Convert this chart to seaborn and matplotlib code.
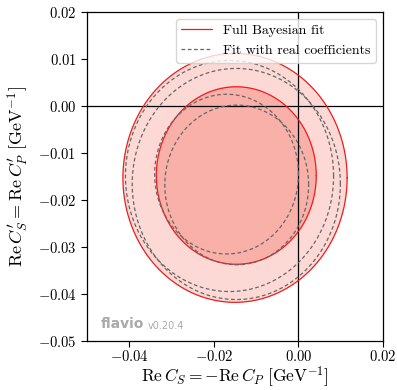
import numpy as np
import pandas as pd
import matplotlib
matplotlib.use("Agg")
import matplotlib.pyplot as plt
import seaborn as sns

# -----------------------------
# Data
# -----------------------------
# each contour: centre (x, y) and radius in data units
FITS = ["Full Bayesian fit", "Fit with real coefficients", "Fit with real coefficients"]
FIT_IDS = ["bayes", "real_a", "real_b"]
CENTER_X_1S = [-0.0147, -0.0170, -0.0146]
CENTER_Y_1S = [-0.0148, -0.0145, -0.0168]
RADIUS_1S = [0.0189, 0.0170, 0.0170]
CENTER_X_2S = [-0.0150, -0.0163, -0.0147]
CENTER_Y_2S = [-0.0153, -0.0149, -0.0166]
RADIUS_2S = [0.0265, 0.0246, 0.0246]

X_TICKS = [-0.04, -0.02, 0.00, 0.02]
Y_TICKS = [-0.05, -0.04, -0.03, -0.02, -0.01, 0.00, 0.01, 0.02]
X_LIM = (-0.05, 0.02)
Y_LIM = (-0.05, 0.02)

RED = "#ee1c1c"
FILL_1S = "#f8b0a8"
FILL_2S = "#fdd9d5"
GREY = "#666666"

# -----------------------------
# Contour outlines
# -----------------------------
t = np.linspace(0, 2 * np.pi, 400)
rows = []
for i, fid in enumerate(FIT_IDS):
    for lvl, cx, cy, r in [("1s", CENTER_X_1S[i], CENTER_Y_1S[i], RADIUS_1S[i]),
                           ("2s", CENTER_X_2S[i], CENTER_Y_2S[i], RADIUS_2S[i])]:
        for k, tt in enumerate(t):
            rows.append({"x": cx + r * np.cos(tt), "y": cy + r * np.sin(tt),
                         "fit": FITS[i], "contour": f"{fid}_{lvl}", "order": k})
df = pd.DataFrame(rows)

# -----------------------------
# Style
# -----------------------------
sns.set_theme(style="ticks", rc={"axes.edgecolor": "black", "xtick.color": "black",
                                 "ytick.color": "black", "text.color": "black",
                                 "axes.labelcolor": "black"})
plt.rcParams["font.family"] = ["cmr10", "DejaVu Serif"]
plt.rcParams["mathtext.fontset"] = "cm"
plt.rcParams["axes.formatter.use_mathtext"] = True
plt.rcParams["axes.unicode_minus"] = True

fig = plt.figure(figsize=(3.97, 3.90), dpi=100)
ax = fig.add_axes([0.219, 0.126, 0.746, 0.843])

# fills for the Bayesian fit
bayes = df[df["fit"] == "Full Bayesian fit"]
b2 = bayes[bayes["contour"] == "bayes_2s"]
b1 = bayes[bayes["contour"] == "bayes_1s"]
ax.fill(b2["x"], b2["y"], color=FILL_2S, lw=0, zorder=1)
ax.fill(b1["x"], b1["y"], color=FILL_1S, lw=0, zorder=2)

ax.axhline(0, color="black", lw=0.9, zorder=3)
ax.axvline(0, color="black", lw=0.9, zorder=3)

sns.lineplot(data=df, x="x", y="y", hue="fit", style="fit", units="contour",
             estimator=None, sort=False, ax=ax,
             palette={"Full Bayesian fit": RED, "Fit with real coefficients": GREY},
             dashes={"Full Bayesian fit": "", "Fit with real coefficients": (3, 2)},
             lw=0.9, zorder=4)

ax.set_xlim(*X_LIM)
ax.set_ylim(*Y_LIM)
ax.set_xticks(X_TICKS)
ax.set_yticks(Y_TICKS)
ax.tick_params(labelsize=10.5, length=4, width=0.8, direction="out")
ax.tick_params(axis="x", pad=2)
for s in ax.spines.values():
    s.set_linewidth(0.9)

ax.set_xlabel(r"$\mathrm{Re}\,C_S = -\mathrm{Re}\,C_P\ [\mathrm{GeV}^{-1}]$",
              fontsize=12.5, va="bottom")
ax.xaxis.set_label_coords(0.5, -0.147)
ax.set_ylabel(r"$\mathrm{Re}\,C_S^\prime = \mathrm{Re}\,C_P^\prime\ [\mathrm{GeV}^{-1}]$",
              fontsize=13, labelpad=5)

leg = ax.legend(loc="upper right", fontsize=10, framealpha=0.8, fancybox=True,
                title=None, handlelength=2.2)
leg.get_frame().set_edgecolor("#cccccc")

# flavio branding
ax.text(0.045, 0.03, "flavio", transform=ax.transAxes, fontsize=10,
        fontweight="bold", color="#aaaaaa", family="DejaVu Sans", va="bottom")
ax.text(0.205, 0.03, "v0.20.4", transform=ax.transAxes, fontsize=7,
        color="#aaaaaa", family="DejaVu Sans", va="bottom")

fig.savefig("out.png", dpi=100)
